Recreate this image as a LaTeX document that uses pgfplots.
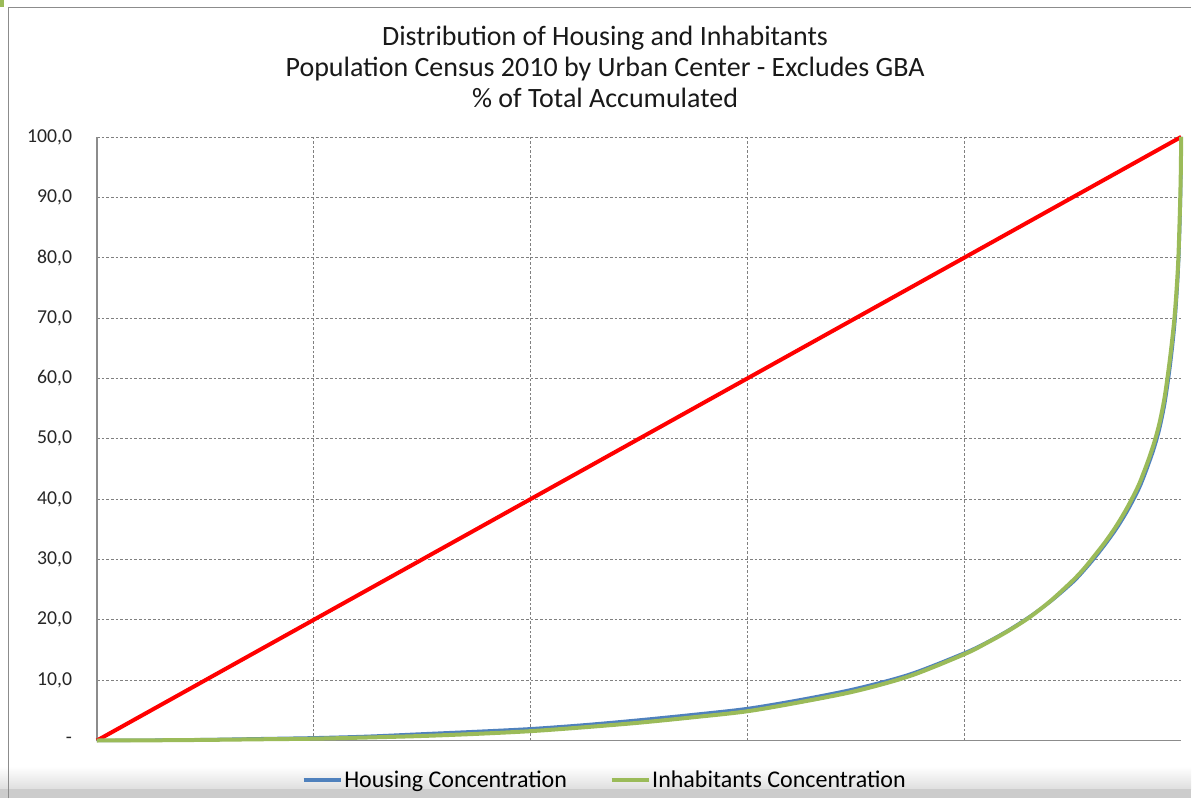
\documentclass[border=0pt]{standalone}
\usepackage{fontspec}
\setmainfont{Carlito}
\usepackage{pgfplots}
\pgfplotsset{compat=1.18}
\definecolor{housing}{HTML}{4F81BD}
\definecolor{inhab}{HTML}{9BBB59}
\definecolor{frameg}{HTML}{8C8C8C}

\begin{document}
\begin{tikzpicture}[x=0.75pt,y=0.75pt]
% canvas, bottom band and outer frame
\fill[white] (0,0) rectangle (1192,799);
\shade[top color=white,bottom color=black!13] (0,9) rectangle (1192,32);
\fill[black!20] (0,0) rectangle (1192,9);
\draw[frameg,line width=1.2pt] (8.5,0) -- (8.5,791.5) -- (1192,791.5);
\fill[inhab] (0,792) rectangle (4,799);

\begin{axis}[
  at={(72.75pt,43.5pt)}, anchor=south west,
  scale only axis, width=813.75pt, height=453pt,
  xmin=0, xmax=100, ymin=0, ymax=100,
  clip=false,
  axis x line=bottom, axis y line=left,
  axis line style={-, black!45, line width=1pt},
  xtick={20,40,60,80}, xticklabels={},
  ytick={0,10,...,100},
  yticklabels={-,{10,0},{20,0},{30,0},{40,0},{50,0},{60,0},{70,0},{80,0},{90,0},{100,0}},
  major tick length=0pt,
  yticklabel style={font=\fontsize{14.8}{16}\selectfont, inner sep=0pt, xshift=-18.5pt, text=black!85},
  grid=major,
  major grid style={black!50, line width=0.6pt, dash pattern=on 2pt off 1.5pt},
  legend columns=2,
  legend style={at={(0.468,-0.0655)}, anchor=center, draw=none, fill=none,
    font=\fontsize{18}{20}\selectfont, inner sep=0pt,
    nodes={inner sep=1pt},
    /tikz/every even column/.append style={column sep=31pt}},
  legend image code/.code={\draw[#1,line width=3pt] (0pt,0pt) -- (28pt,0pt);},
]
% line of equal distribution
\addplot[red, line width=3pt, forget plot] coordinates {(0,0) (100,100)};

% housing
\addplot[housing, line width=2.5pt, smooth, tension=0.5] coordinates {
(0,0) (5,0.05) (10,0.15) (15,0.3) (20,0.45) (25,0.7) (30,1.1) (35,1.5)
(40,1.95) (45,2.6) (50,3.4) (55,4.3) (60,5.3) (65,6.8) (70,8.6) (75,11.0)
(80,14.5) (82,16.2) (84,18.2) (86,20.5) (88,23.1) (90,26.2) (91,28.1)
(92,30.2) (93,32.5) (94,35.0) (95,37.9) (96,41.3) (96.5,43.4) (97,45.8)
(97.5,48.4) (98,51.6) (98.5,56.0) (99,62.3) (99.4,69) (99.7,77)
(99.85,84) (99.95,91) (100,100)
};
\addlegendentry{Housing Concentration}

% inhabitants
\addplot[inhab, line width=3pt, smooth, tension=0.5] coordinates {
(0,0) (5,0.03) (10,0.1) (15,0.2) (20,0.3) (25,0.5) (30,0.75) (35,1.1)
(40,1.55) (45,2.2) (50,2.95) (55,3.85) (60,4.85) (65,6.4) (70,8.2) (75,10.7)
(80,14.3) (82,16.1) (84,18.1) (86,20.4) (88,23.2) (90,26.5) (91,28.4)
(92,30.6) (93,32.9) (94,35.5) (95,38.5) (96,42.0) (96.5,44.2) (97,46.6)
(97.5,49.3) (98,52.6) (98.5,57.2) (99,63.8) (99.4,70.5) (99.7,78.5)
(99.85,86) (99.95,93) (100,100)
};
\addlegendentry{Inhabitants Concentration}
\end{axis}

\node[align=center, font=\fontsize{21}{23.25}\selectfont, text=black!90]
  at (605.5,732) {Distribution of Housing and Inhabitants\\
  Population Census 2010 by Urban Center - Excludes GBA\\
  \% of Total Accumulated};
\end{tikzpicture}
\end{document}
